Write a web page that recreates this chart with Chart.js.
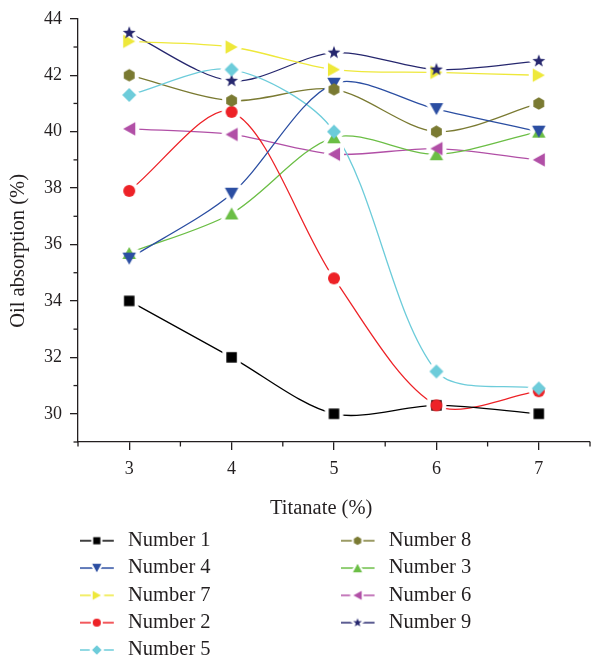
<!DOCTYPE html>
<html><head><meta charset="utf-8">
<script src="https://cdn.jsdelivr.net/npm/chart.js@4.4.0/dist/chart.umd.min.js"></script>
<style>html,body{margin:0;padding:0;background:#fff;overflow:hidden}#wrap{width:597px;height:661px;position:relative}</style>
</head><body><div id="wrap"><canvas id="c" width="597" height="661"></canvas></div>
<script>
// ---- data ----
const titanate = [3, 4, 5, 6, 7];
const number1 = [34.0, 32.0, 30.0, 30.3, 30.0];
const number2 = [37.9, 40.7, 34.8, 30.3, 30.8];
const number3 = [35.7, 37.1, 39.8, 39.2, 40.0];
const number4 = [35.5, 37.8, 41.7, 40.8, 40.0];
const number5 = [41.3, 42.2, 40.0, 31.5, 30.9];
const number6 = [40.1, 39.9, 39.2, 39.4, 39.0];
const number7 = [43.2, 43.0, 42.2, 42.1, 42.0];
const number8 = [42.0, 41.1, 41.5, 40.0, 41.0];
const number9 = [43.5, 41.8, 42.8, 42.2, 42.5];
const xTicks = [3, 4, 5, 6, 7];
const xMinorTicks = [2.5, 3.5, 4.5, 5.5, 6.5, 7.5];
const yTicks = [30, 32, 34, 36, 38, 40, 42, 44];
const yMinorTicks = [29, 31, 33, 35, 37, 39, 41, 43];
const legendOrder = ['Number 1', 'Number 8', 'Number 4', 'Number 3', 'Number 7', 'Number 6', 'Number 2', 'Number 9', 'Number 5'];
const leftColumn = ['Number 1', 'Number 4', 'Number 7', 'Number 2', 'Number 5'];

// ---- styles ----
const series = [
  {name: 'Number 1', data: number1, color: '#000000', shape: 'square',   size: 10.5, rank: 9},
  {name: 'Number 4', data: number4, color: '#2B4EA2', shape: 'triDown',  size: 13.5, rank: 5},
  {name: 'Number 7', data: number7, color: '#EEE83A', shape: 'triRight', size: 13.5, rank: 8},
  {name: 'Number 2', data: number2, color: '#ED2227', shape: 'circle',   size: 12,   rank: 6},
  {name: 'Number 5', data: number5, color: '#6DCCDA', shape: 'diamond',  size: 14,   rank: 1},
  {name: 'Number 8', data: number8, color: '#7A7A32', shape: 'hexagon',  size: 12.5, rank: 3},
  {name: 'Number 3', data: number3, color: '#6BBE45', shape: 'triUp',    size: 13.5, rank: 7},
  {name: 'Number 6', data: number6, color: '#B14FA6', shape: 'triLeft',  size: 13.5, rank: 4},
  {name: 'Number 9', data: number9, color: '#26276E', shape: 'star',     size: 13.5, rank: 2}
];
const FONT = "'Liberation Serif', 'Times New Roman', serif";
const INK = '#231f20';

function shapePath(ctx, shape, s) {
  const r = s / 2, h = s * 0.9;
  ctx.beginPath();
  switch (shape) {
    case 'square': ctx.rect(-r, -r, s, s); break;
    case 'circle': ctx.arc(0, 0, r, 0, Math.PI * 2); break;
    case 'diamond': ctx.moveTo(0, -r); ctx.lineTo(r, 0); ctx.lineTo(0, r); ctx.lineTo(-r, 0); ctx.closePath(); break;
    case 'triUp': ctx.moveTo(0, -h / 2); ctx.lineTo(r, h / 2); ctx.lineTo(-r, h / 2); ctx.closePath(); break;
    case 'triDown': ctx.moveTo(0, h / 2); ctx.lineTo(r, -h / 2); ctx.lineTo(-r, -h / 2); ctx.closePath(); break;
    case 'triRight': ctx.moveTo(h / 2, 0); ctx.lineTo(-h / 2, -r); ctx.lineTo(-h / 2, r); ctx.closePath(); break;
    case 'triLeft': ctx.moveTo(-h / 2, 0); ctx.lineTo(h / 2, -r); ctx.lineTo(h / 2, r); ctx.closePath(); break;
    case 'hexagon':
      for (let k = 0; k < 6; k++) { const a = (-90 + 60 * k) * Math.PI / 180; const px = r * Math.cos(a), py = r * Math.sin(a); k ? ctx.lineTo(px, py) : ctx.moveTo(px, py); }
      ctx.closePath(); break;
    case 'star':
      for (let k = 0; k < 10; k++) { const a = (-90 + 36 * k) * Math.PI / 180; const rr = k % 2 ? r * 0.42 : r; const px = rr * Math.cos(a), py = rr * Math.sin(a); k ? ctx.lineTo(px, py) : ctx.moveTo(px, py); }
      ctx.closePath(); break;
  }
}
function makeMarker(shape, color, s, halo) {
  const dim = Math.ceil(s + 2 * halo + 4);
  const c = document.createElement('canvas');
  c.width = dim; c.height = dim;
  const ctx = c.getContext('2d');
  ctx.translate(dim / 2, dim / 2);
  shapePath(ctx, shape, s);
  if (halo > 0) {
    ctx.fillStyle = '#fff'; ctx.fill();
    ctx.lineWidth = 2 * halo; ctx.strokeStyle = '#fff'; ctx.lineJoin = 'round'; ctx.stroke();
  } else {
    ctx.fillStyle = color; ctx.fill();
  }
  return c;
}
function makeLegendImg(sr) {
  const c = document.createElement('canvas');
  c.width = 43; c.height = 14;
  const ctx = c.getContext('2d');
  ctx.globalAlpha = 0.75;
  ctx.strokeStyle = sr.color; ctx.lineWidth = 2;
  ctx.beginPath(); ctx.moveTo(0, 7); ctx.lineTo(34, 7); ctx.stroke();
  ctx.globalAlpha = 1;
  ctx.save(); ctx.translate(17, 7);
  const s = sr.size * 0.68;
  shapePath(ctx, sr.shape, s);
  ctx.fillStyle = '#fff'; ctx.fill(); ctx.lineWidth = 4; ctx.strokeStyle = '#fff'; ctx.stroke();
  shapePath(ctx, sr.shape, s);
  ctx.fillStyle = sr.color; ctx.fill();
  ctx.restore();
  return c;
}
const pts = arr => titanate.map((x, i) => ({x: x, y: arr[i]}));

const datasets = [];
series.forEach(sr => {
  datasets.push({label: sr.name, data: pts(sr.data), borderColor: sr.color, borderWidth: 1.3,
    pointRadius: 0, tension: 0.3, fill: false, order: 30});
});
series.forEach(sr => {
  datasets.push({label: sr.name + ' halo', data: pts(sr.data), showLine: false,
    pointStyle: makeMarker(sr.shape, sr.color, sr.size, 4), pointRadius: 6, order: 20, clip: false});
});
series.forEach(sr => {
  datasets.push({label: sr.name + ' marker', data: pts(sr.data), showLine: false,
    pointStyle: makeMarker(sr.shape, sr.color, sr.size, 0), pointRadius: 6, order: sr.rank, clip: false});
});
const legendImgs = series.map(makeLegendImg);

const minorTicks = {
  id: 'minorTicks',
  afterDraw(chart) {
    const {ctx, scales: {x, y}} = chart;
    ctx.save(); ctx.strokeStyle = INK; ctx.lineWidth = 1.3;
    xMinorTicks.forEach(v => { const p = x.getPixelForValue(v); ctx.beginPath(); ctx.moveTo(p, y.bottom); ctx.lineTo(p, y.bottom + 4.5); ctx.stroke(); });
    yMinorTicks.forEach(v => { const p = y.getPixelForValue(v); ctx.beginPath(); ctx.moveTo(x.left, p); ctx.lineTo(x.left - 4.5, p); ctx.stroke(); });
    ctx.restore();
  }
};

new Chart(document.getElementById('c'), {
  type: 'line',
  data: {datasets},
  options: {
    responsive: false, animation: false, events: [],
    layout: {padding: {top: 15.5, left: 0, right: 0, bottom: -9.2}},
    scales: {
      x: {
        type: 'linear', min: 2.5, max: 7.5,
        afterBuildTicks: s => { s.ticks = xTicks.map(v => ({value: v})); },
        afterFit: s => { s.height = 81.7; },
        grid: {drawOnChartArea: false, drawTicks: true, tickLength: 8, color: INK, lineWidth: 1.3},
        border: {display: true, color: INK, width: 1.3},
        ticks: {color: INK, font: {family: FONT, size: 18}, padding: 8, callback: v => String(v)},
        title: {display: true, text: 'Titanate (%)' + ' '.repeat(5), color: INK, font: {family: FONT, size: 20.5}, padding: {top: 0, bottom: 3}}
      },
      y: {
        type: 'linear', min: 29, max: 44,
        afterBuildTicks: s => { s.ticks = yTicks.map(v => ({value: v})); },
        afterFit: s => { s.width = 78; },
        grid: {drawOnChartArea: false, drawTicks: true, tickLength: 8, color: INK, lineWidth: 1.3},
        border: {display: true, color: INK, width: 1.3},
        ticks: {color: INK, font: {family: FONT, size: 18}, padding: 8, callback: v => String(v)},
        title: {display: true, text: 'Oil absorption (%)' + ' '.repeat(8), color: INK, font: {family: FONT, size: 20.5}, padding: {top: 6, bottom: 0}}
      }
    },
    plugins: {
      tooltip: {enabled: false},
      legend: {
        display: true, position: 'bottom', align: 'start', fullSize: false,
        labels: {
          usePointStyle: true, pointStyleWidth: 33, padding: 6.8, color: INK,
          font: {family: FONT, size: 20.5},
          generateLabels: () => legendOrder.map(name => {
            const idx = series.findIndex(q => q.name === name);
            return {text: leftColumn.includes(name) ? name + ' '.repeat(25) : name,
              pointStyle: legendImgs[idx], fillStyle: 'rgba(0,0,0,0)', strokeStyle: 'rgba(0,0,0,0)',
              lineWidth: 0, hidden: false, datasetIndex: idx, fontColor: INK};
          })
        }
      }
    }
  },
  plugins: [minorTicks]
});
</script></body></html>
